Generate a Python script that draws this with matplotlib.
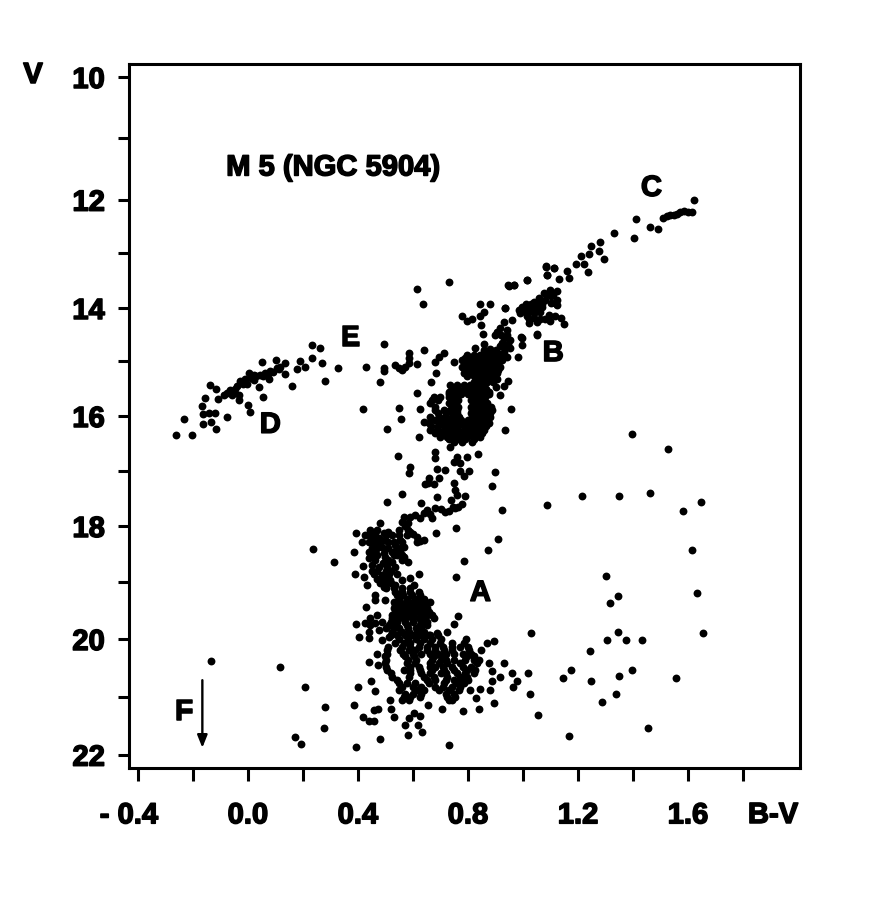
import numpy as np
import matplotlib
matplotlib.use("Agg")
import matplotlib.pyplot as plt
import matplotlib.patheffects as pe
from matplotlib.ticker import FixedLocator, FixedFormatter, NullFormatter
from matplotlib.transforms import ScaledTranslation

plt.rcParams['font.family'] = ['Liberation Sans', 'DejaVu Sans']
plt.rcParams['font.weight'] = 'bold'

# Giant branch tip and upper giant branch
bv_tip = [1.62,1.615,1.584,1.56,1.536,1.509,1.412,1.463,1.491,1.405,1.33,1.279,1.247,1.275,1.293,1.241,1.212,1.191,1.223,1.237,1.159,1.166,1.13,1.084,1.113,1.087,1.016,0.945,0.968,0.936,1.051,0.994,1.15,1.138,1.6,1.572,1.548,1.522]
v_tip = [12.01,12.24,12.22,12.26,12.29,12.34,12.37,12.52,12.55,12.72,12.63,12.80,12.87,12.97,13.1,13.02,13.06,13.2,13.2,13.35,13.33,13.46,13.47,13.24,13.28,13.4,13.49,13.59,13.58,14.0,14.49,14.55,14.31,14.18,12.23,12.24,12.28,12.31]

# Clump B
bv_b = [1.099,1.124,1.075,1.057,1.124,1.124,1.039,1.081,1.045,0.996,1.02,1.069,1.015,1.039,1.02,0.99,1.063,1.093,1.099,1.117,0.984,1.09,1.11,1.1,1.06,1.1,1.115,1.01,1.0,1.03,1.05,1.015,1.04,1.06,1.08,1.02,1.07,1.03,1.05]
v_b = [13.67,13.70,13.73,13.82,13.85,13.95,13.89,13.85,13.98,13.98,14.0,13.98,14.16,14.19,14.28,14.1,14.07,14.13,14.25,14.16,14.04,13.75,13.76,13.78,13.9,13.9,13.9,13.93,14.05,14.05,14.05,14.1,14.1,14.2,14.2,14.2,13.93,13.93,14.27]

# Scatter around the giant branch
bv_scat = [0.732,0.614,0.637,0.845,0.88,0.936,0.779,0.796,0.814,0.857,0.842,0.846,0.856,0.494,0.587,0.641,0.43,0.496,0.496,0.481,0.536,0.56,0.584,0.614,0.584,0.548,0.572,0.711,0.693,0.681,0.748,0.682,0.665,0.613,0.417,0.548,0.626,0.556,0.504,0.641,0.622,0.546,0.681,0.681,0.588,0.584,0.688,0.716,0.657,0.696,0.736,0.76,0.748,0.772,0.797,0.837,0.899,0.772,0.802,0.784,1.052,0.996,0.996,0.98,0.944,0.93,0.903,0.917,0.956,0.935,0.948,0.966,1.015,1.083,1.111,1.087]
v_scat = [13.52,13.66,13.92,13.92,13.93,14.0,14.15,14.25,14.21,14.07,14.16,14.32,14.49,14.67,14.84,14.79,15.1,15.12,15.19,15.38,15.07,15.16,15.04,15.05,14.95,15.13,15.1,14.85,14.92,15.01,15.01,15.21,15.38,15.58,15.88,15.85,15.88,16.06,16.24,16.1,16.39,16.72,16.65,16.77,16.93,17.04,16.96,16.99,17.12,17.13,16.57,16.74,16.83,16.86,16.75,16.69,17.02,17.0,17.0,17.09,14.51,14.57,14.7,14.92,15.36,15.46,15.48,15.62,15.87,16.26,13.6,13.58,13.49,13.25,13.28,13.4]

# Dense lower giant branch
bv_rgb = [0.93,0.96,0.917,0.942,0.899,0.954,0.93,0.954,0.936,0.917,0.857,0.826,0.857,0.881,0.942,
 0.796,0.82,0.845,0.869,0.893,0.917,
 0.778,0.802,0.826,0.851,0.875,0.899,0.923,
 0.778,0.802,0.826,0.851,0.875,0.899,0.917,
 0.784,0.808,0.832,0.857,0.881,0.905,
 0.832,0.857,0.881,0.905,
 0.736,0.76,0.784,0.808,0.832,0.857,
 0.73,0.754,0.778,0.802,0.826,0.851,0.875,
 0.675,0.699,0.73,0.754,0.814,0.839,0.863,
 0.663,0.73,0.754,0.82,0.845,0.869,
 0.681,0.711,0.736,0.76,0.814,0.839,0.863,0.887,
 0.663,0.693,0.717,0.742,0.766,0.814,0.839,0.863,0.881,
 0.657,0.699,0.723,0.754,0.778,0.802,0.826,0.851,0.875,
 0.663,0.687,0.711,0.736,0.76,0.784,0.808,0.832,0.857,
 0.699,0.723,0.748,0.772,0.796,0.82,0.845,
 0.748,0.778,0.814]
v_rgb = [14.26,14.23,14.38,14.42,14.51,14.6,14.57,14.76,14.76,14.86,14.67,14.76,14.79,14.86,14.92,
 14.89,14.89,14.89,14.89,14.89,14.89,
 14.98,14.98,14.98,14.98,14.98,14.98,14.98,
 15.10,15.10,15.10,15.10,15.10,15.10,15.10,
 15.22,15.22,15.22,15.22,15.22,15.22,
 15.32,15.32,15.32,15.32,
 15.44,15.44,15.44,15.44,15.44,15.44,
 15.56,15.56,15.56,15.56,15.56,15.56,15.56,
 15.65,15.65,15.65,15.65,15.65,15.65,15.65,
 15.77,15.77,15.77,15.77,15.77,15.77,
 15.89,15.89,15.89,15.89,15.89,15.89,15.89,15.89,
 16.01,16.01,16.01,16.01,16.01,16.01,16.01,16.01,16.01,
 16.13,16.13,16.13,16.13,16.13,16.13,16.13,16.13,16.13,
 16.25,16.25,16.25,16.25,16.25,16.25,16.25,16.25,16.25,
 16.38,16.38,16.38,16.38,16.38,16.38,16.38,
 16.47,16.47,16.47]

# Further stars packed into the lower giant branch
bv_rgb2 = [.905,.92,.94,.945,.925,.93,.915,.88,.90,.92,
 .79,.815,.84,.86,.885,.91,
 .79,.815,.84,.865,.89,.91,
 .79,.815,.84,.865,.89,.91,
 .795,.82,.845,.87,.895,
 .82,.845,.87,.89,
 .74,.765,.79,.815,.84,.865,
 .73,.75,.775,.8,.825,.85,.875,
 .67,.69,.74,.765,.81,.83,.855,
 .68,.74,.765,.81,.835,.86,.885,
 .69,.72,.745,.76,.81,.83,.855,.88,
 .68,.705,.73,.76,.775,.80,.825,.85,.87,
 .665,.69,.715,.74,.765,.79,.815,.84,.865,
 .68,.705,.73,.755,.78,.805,.83,.85,
 .73,.76,.79,.82]
v_rgb2 = [14.45,14.5,14.5,14.68,14.66,14.83,14.72,14.78,14.8,14.92,
 14.94,14.94,14.94,14.94,14.94,14.94,
 15.04,15.04,15.04,15.04,15.04,15.04,
 15.16,15.16,15.16,15.16,15.16,15.16,
 15.28,15.28,15.28,15.28,15.28,
 15.38,15.38,15.38,15.38,
 15.5,15.5,15.5,15.5,15.5,15.5,
 15.6,15.6,15.6,15.6,15.6,15.6,15.6,
 15.71,15.71,15.71,15.71,15.71,15.71,15.71,
 15.83,15.83,15.83,15.83,15.83,15.83,15.83,
 15.95,15.95,15.95,15.95,15.95,15.95,15.95,15.95,
 16.07,16.07,16.07,16.07,16.07,16.07,16.07,16.07,16.07,
 16.19,16.19,16.19,16.19,16.19,16.19,16.19,16.19,16.19,
 16.31,16.31,16.31,16.31,16.31,16.31,16.31,16.31,
 16.42,16.42,16.42,16.42]

# Subgiant branch
bv_sgb = [0.886,0.922,0.561,0.505,0.687,0.63,0.645,0.675,0.748,0.754,0.76,0.79,0.738,0.681,0.718,0.754,0.778,0.651,0.608,0.669,0.627,0.566,0.756,0.684,0.908,0.873,0.785,0.756,0.314,0.387,0.388,0.391,0.56,0.581,0.615,0.639,0.615,0.237,.655,.7,.73,.745,.765,.66,.64,.59,.58,.57,.59,.6,.625]
v_sgb = [17.27,17.71,17.42,17.57,17.48,17.59,17.23,17.23,17.22,17.34,17.43,17.45,17.53,17.68,17.74,17.68,17.6,17.71,17.8,17.86,17.86,17.84,18.04,18.13,18.24,18.43,18.63,18.91,18.65,18.47,18.86,18.13,17.92,18.07,18.19,18.25,18.28,18.41,17.22,17.7,17.72,17.65,17.65,17.79,17.77,17.83,17.95,18.0,18.1,18.14,18.27]

# Turnoff
bv_to = [0.481,0.445,0.469,0.493,0.427,0.451,0.475,0.499,0.524,0.548,0.578,0.554,0.415,0.463,0.487,0.536,0.566,0.439,0.463,0.493,0.524,0.554,0.439,0.499,0.524,0.566,0.581,0.418,0.451,0.475,0.505,0.536,0.457,0.487,0.511,0.542,0.423,0.493,0.518,0.434,0.493,0.62,0.59,0.56,0.536,0.602,
 .46,.51,.44,.46,.5,.55,.44,.46,.48,.51,.53,.56,.45,.47,.51,.54,.555,.45,.47,.53,.54,.56,.46,.51,.56,.49,.5,.45,.47,.5,.52,.47,.48,.5,.48,.5,.52,.5]
v_to = [17.95,18.07,18.07,18.13,18.16,18.19,18.22,18.25,18.16,18.07,18.16,18.25,18.29,18.34,18.37,18.34,18.37,18.46,18.46,18.49,18.46,18.46,18.58,18.55,18.64,18.55,18.65,18.71,18.7,18.74,18.74,18.74,18.85,18.88,18.85,18.85,18.91,18.99,18.96,19.06,19.08,18.86,18.92,18.96,19.05,19.05,
 18.1,18.1,18.16,18.16,18.16,18.16,18.28,18.28,18.28,18.28,18.28,18.28,18.4,18.4,18.4,18.4,18.4,18.52,18.52,18.52,18.52,18.52,18.6,18.6,18.6,18.66,18.66,18.8,18.8,18.8,18.8,18.95,18.95,18.95,19.02,19.02,19.02,19.1]

# Upper main sequence
bv_ms1 = [0.536,0.56,0.59,0.621,
 0.548,0.578,0.608,0.639,0.663,
 0.536,0.56,0.584,0.608,0.633,
 0.536,0.56,0.584,0.608,0.633,0.657,
 0.524,0.548,0.572,0.596,0.621,0.645,0.675,
 0.511,0.536,0.578,0.627,0.651,
 0.524,0.56,0.584,0.615,0.639,
 0.461,0.463,0.429,0.499,0.469,0.445,0.427,0.394,0.445,0.487,0.463,0.402,0.439,0.475,0.439,0.487,0.511,0.764,0.748,1.03,0.793,0.893,0.869,0.847,0.724,0.687,0.657,
 .53,.56,.59,.54,.565,.595,.625,.53,.55,.575,.6,.625,.645,.53,.55,.575,.6,.625,.65,.525,.55,.575,.6,.63,.65,.67,.52,.54,.57,.6,.63,.65,.5,.53,.55,.58,.61,.63,.52,.54,.57,.6,.63,.66,.69]
v_ms1 = [19.17,19.17,19.17,19.17,
 19.29,19.29,19.29,19.29,19.35,
 19.40,19.40,19.40,19.40,19.40,
 19.52,19.52,19.52,19.52,19.52,19.52,
 19.64,19.64,19.64,19.64,19.64,19.64,19.64,
 19.75,19.75,19.75,19.75,19.75,
 19.87,19.87,19.87,19.87,19.87,
 19.23,19.32,19.43,19.32,19.58,19.64,19.72,19.74,19.75,19.7,19.72,19.97,19.99,19.84,19.87,20.02,19.96,19.6,19.73,19.9,20.0,20.03,20.07,20.19,19.87,19.9,19.93,
 19.11,19.11,19.11,19.23,19.23,19.23,19.23,19.35,19.35,19.35,19.35,19.35,19.35,19.46,19.46,19.46,19.46,19.46,19.46,19.58,19.58,19.58,19.58,19.58,19.58,19.58,19.7,19.7,19.7,19.7,19.7,19.7,19.81,19.81,19.81,19.81,19.81,19.81,19.93,19.93,19.93,19.93,19.93,19.93,19.93]

# Lower main sequence
bv_ms2 = [0.536,0.566,0.59,0.627,0.663,0.699,0.742,0.784,
 0.505,0.554,0.584,0.608,0.651,0.681,0.711,0.742,0.802,
 0.499,0.572,0.602,0.675,0.705,0.796,0.821,
 0.499,0.578,0.608,0.663,0.693,0.724,0.772,0.833,
 0.505,0.566,0.59,0.627,0.669,0.711,0.748,0.796,0.827,
 0.524,0.584,0.639,0.675,0.724,0.772,0.796,
 0.548,0.578,0.608,0.657,0.711,0.76,0.784,
 0.548,0.615,0.639,0.693,0.73,0.766,
 0.566,0.59,0.627,0.724,0.754,0.73,
 .55,.58,.61,.64,.67,.70,
 .51,.56,.59,.62,.65,.68,.71,.74,.77,.8,
 .505,.565,.6,.63,.66,.69,.72,.75,.78,.81,
 .5,.58,.61,.67,.70,.72,.75,.79,.82,.84,
 .5,.59,.62,.66,.68,.71,.74,.78,.81,
 .52,.59,.63,.66,.7,.72,.76,.79,.82,
 .54,.65,.68,.72,.75,.78,.8,
 .56,.6,.63,.68,.71,.74,.77,
 .57,.6,.63,.72,.75,.74]
v_ms2 = [20.07,20.07,20.07,20.07,20.07,20.07,20.07,20.07,
 20.19,20.19,20.19,20.19,20.19,20.19,20.19,20.19,20.19,
 20.3,20.3,20.3,20.3,20.3,20.3,20.3,
 20.42,20.42,20.42,20.42,20.42,20.42,20.42,20.42,
 20.53,20.53,20.53,20.53,20.53,20.53,20.53,20.53,20.53,
 20.65,20.65,20.65,20.65,20.65,20.65,20.65,
 20.76,20.76,20.76,20.76,20.76,20.76,20.76,
 20.88,20.88,20.88,20.88,20.88,20.88,
 21.0,21.0,21.0,21.0,21.0,21.05,
 20.0,20.0,20.0,20.0,20.0,20.0,
 20.13,20.13,20.13,20.13,20.13,20.13,20.13,20.13,20.13,20.13,
 20.25,20.25,20.25,20.25,20.25,20.25,20.25,20.25,20.25,20.25,
 20.36,20.36,20.36,20.36,20.36,20.36,20.36,20.36,20.36,20.36,
 20.48,20.48,20.48,20.48,20.48,20.48,20.48,20.48,20.48,
 20.59,20.59,20.59,20.59,20.59,20.59,20.59,20.59,20.59,
 20.7,20.7,20.7,20.7,20.7,20.7,20.7,
 20.82,20.82,20.82,20.82,20.82,20.82,20.82,
 20.94,20.94,20.94,20.94,20.94,21.06]

# Faint scatter
bv_faint = [0.47,0.441,0.474,0.875,0.887,0.932,0.918,0.96,1.017,0.978,0.962,0.887,0.881,0.842,0.808,1.026,0.829,0.893,0.839,0.782,0.704,0.653,1.053,0.447,0.399,0.462,0.384,0.279,0.276,0.391,0.479,0.583,0.633,0.73,0.518,0.519,0.457,0.471,0.417,0.439,0.459,0.53,0.572,0.584,0.602,0.627,0.617,0.56,0.584]
v_faint = [20.26,20.39,20.45,20.42,20.56,20.42,20.65,20.58,20.59,20.72,20.82,20.72,20.88,20.87,20.88,20.94,21.01,21.11,21.21,21.24,21.2,21.13,21.32,20.72,20.82,20.9,21.14,21.17,21.53,21.86,21.73,21.65,21.61,21.84,21.05,21.2,21.23,21.2,21.35,21.41,21.42,21.35,21.49,21.37,21.28,21.33,21.49,21.05,21.06]

# Horizontal branch
bv_hb = [-.263,-.205,-.231,-.164,-.117,-.133,-.077,-.167,-.157,-.143,-.119,-.163,-.137,-.116,-.109,-.086,-.064,-.046,-.058,-.034,-.034,-.028,-.01,-.003,.003,.021,.021,.045,.063,.081,.075,.106,.118,.133,.136,.1,.051,.039,.053,0.0,.009,.159,.177,.188,.209,.234,.27,.233,.263,.326,.279,-.075,-.05,-.04,-.02,0.01,.03,.055,.072,.09,.112]
v_hb = [16.35,16.34,16.06,16.15,16.23,16.1,16.02,15.82,15.68,15.94,15.94,15.97,15.44,15.5,15.7,15.62,15.53,15.5,15.62,15.62,15.71,15.36,15.32,15.41,15.22,15.35,15.25,15.25,15.22,15.19,15.32,15.13,15.1,15.03,15.24,14.99,15.02,15.48,15.66,15.8,15.92,15.45,15.15,15.0,15.1,14.95,15.04,14.7,14.75,15.12,15.36,15.58,15.56,15.45,15.42,15.3,15.28,15.27,15.23,15.2,15.15]

# Field stars, left and right
bv_field = [-.136,.115,.207,.171,.192,1.087,1.216,1.349,1.462,1.583,1.646,1.616,1.302,1.347,1.316,1.631,1.345,1.653,1.305,1.374,1.433,1.245,1.173,1.144,1.247,1.348,1.395,1.557,1.338,1.286,1.167,1.456,1.398,1.528]
v_field = [20.38,20.49,20.83,21.69,21.82,17.61,17.45,17.45,17.4,17.72,17.56,18.43,18.89,19.24,19.37,19.19,19.88,19.9,20.02,20.02,20.01,20.2,20.54,20.68,20.72,20.64,20.54,20.67,20.95,21.08,21.68,21.53,16.33,16.6]

x_major = [-0.4,-0.2,0.0,0.2,0.4,0.6,0.8,1.0,1.2,1.4,1.6,1.8]
x_labels = ['- 0.4','','0.0','','0.4','','0.8','','1.2','','1.6','']
y_major = [10,12,14,16,18,20,22]
y_minor = [11,13,15,17,19,21]
y_labels = ['10','12','14','16','18','20','22']
letters = ['A','B','C','D','E','F']
letter_x = [0.845,1.11,1.467,0.081,0.372,-0.232]
letter_y = [19.19,14.85,11.81,16.16,14.56,21.26]

# The printed axis is slightly uneven: tick V -> measured vertical position
V_ANCH = [9.78,10,11,12,13,14,15,16,17,18,19,20,21,22,22.23]
P_ANCH = [63.5,77,137.7,199.7,253,308,361,416,471,526,582,639,697,754.7,768]
def fwd(v):
    return np.interp(v, V_ANCH, P_ANCH)
def inv(p):
    return np.interp(p, P_ANCH, V_ANCH)

W, H = 880, 900
fig = plt.figure(figsize=(W/100, H/100), dpi=100, facecolor='white')
ax = fig.add_axes([129/W, 1-768/H, (800-129)/W, (768-63.5)/H])
ax.set_yscale('function', functions=(fwd, inv))
ax.set_xlim(-0.4-(138-129)/275, -0.4+(800-138)/275)
ax.set_ylim(22.23, 9.78)

groups = [(bv_tip,v_tip),(bv_b,v_b),(bv_scat,v_scat),(bv_rgb,v_rgb),(bv_rgb2,v_rgb2),(bv_sgb,v_sgb),(bv_to,v_to),(bv_ms1,v_ms1),(bv_ms2,v_ms2),(bv_faint,v_faint),(bv_hb,v_hb),(bv_field,v_field)]
for bx, vy in groups:
    ax.scatter(bx, vy, s=32, c='black', linewidths=0, zorder=3)

bloat = [pe.withStroke(linewidth=1.1, foreground='black')]
FS = 21

for s in ax.spines.values():
    s.set_linewidth(2.2)
ax.xaxis.set_major_locator(FixedLocator(x_major))
ax.xaxis.set_major_formatter(FixedFormatter(x_labels))
ax.yaxis.set_major_locator(FixedLocator(y_major))
ax.yaxis.set_major_formatter(FixedFormatter(y_labels))
ax.yaxis.set_minor_locator(FixedLocator(y_minor))
ax.yaxis.set_minor_formatter(NullFormatter())
ax.tick_params(axis='x', which='major', length=9.5, width=2.2, pad=14.5, labelsize=FS)
ax.tick_params(axis='y', which='both', length=8, width=2.2, pad=9.5, labelsize=FS)
for lab in ax.get_xticklabels() + ax.get_yticklabels():
    lab.set_fontweight('bold')
    lab.set_path_effects(bloat)
first = ax.get_xticklabels()[0]
first.set_transform(first.get_transform() + ScaledTranslation(-9/100, 0, fig.dpi_scale_trans))

ax.text(0.31, 11.48, 'M 5 (NGC 5904)', ha='center', va='center', fontsize=FS, fontweight='bold', path_effects=bloat)
for t, lx, ly in zip(letters, letter_x, letter_y):
    ax.text(lx, ly, t, ha='center', va='center', fontsize=FS, fontweight='bold', path_effects=bloat)
fig.text(33/W, 1-75/H, 'V', ha='center', va='center', fontsize=FS, fontweight='bold', path_effects=bloat)
fig.text(773/W, 1-815/H, 'B-V', ha='center', va='center', fontsize=FS, fontweight='bold', path_effects=bloat)

ax.annotate('', xy=(-0.166, 21.88), xytext=(-0.166, 20.71),
            arrowprops=dict(arrowstyle='-|>,head_length=0.75,head_width=0.3', color='black', lw=1.7,
                            shrinkA=0, shrinkB=0))

fig.savefig('out.png', dpi=100, facecolor='white')
